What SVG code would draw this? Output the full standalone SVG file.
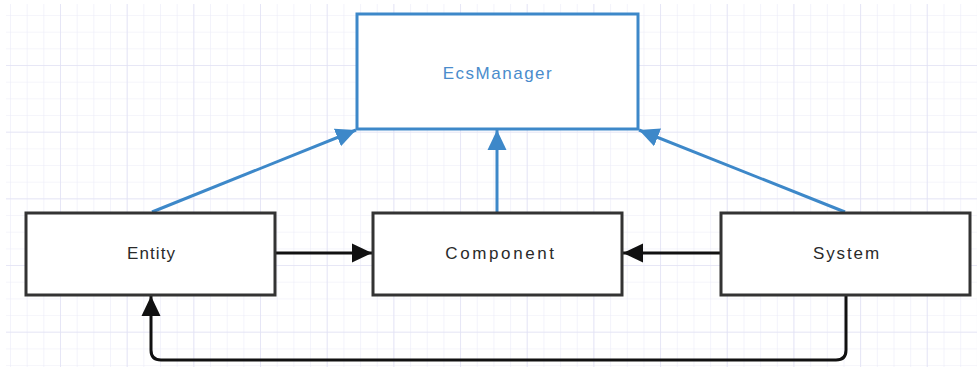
<svg xmlns="http://www.w3.org/2000/svg" width="977" height="367" viewBox="0 0 977 367">
<style>
.box{fill:#ffffff;stroke:#333333;stroke-width:3}
.mgr{fill:#ffffff;stroke:#3d88c9;stroke-width:3}
.lbl{font-family:"Liberation Sans",Arial,sans-serif;font-size:17px;text-anchor:middle;fill:#2a2a2a}
.lblb{font-family:"Liberation Sans",Arial,sans-serif;font-size:17px;text-anchor:middle;fill:#4a8ccc}
.blk{fill:none;stroke:#111111;stroke-width:3}
.blu{fill:none;stroke:#3d88c9;stroke-width:3}
</style>
<defs>
<pattern id="grid" x="10" y="15" width="16.67" height="16.67" patternUnits="userSpaceOnUse">
<path d="M0 0H16.67M0 0V16.67" fill="none" stroke="#ebebf8" stroke-width="1.2"/>
</pattern>
<pattern id="grid2" x="60" y="65" width="66.67" height="66.67" patternUnits="userSpaceOnUse">
<path d="M0 0H66.67M0 0V66.67" fill="none" stroke="#e2e2f5" stroke-width="1.5"/>
</pattern>
<marker id="ab" markerUnits="userSpaceOnUse" viewBox="0 0 20 20" markerWidth="20" markerHeight="20" refX="20" refY="10" orient="auto">
<path d="M0 0.5L20 10L0 19.5Z" fill="#111111"/>
</marker>
<marker id="au" markerUnits="userSpaceOnUse" viewBox="0 0 20 20" markerWidth="20" markerHeight="20" refX="20" refY="10" orient="auto">
<path d="M0 0.5L20 10L0 19.5Z" fill="#3d88c9"/>
</marker>
</defs>
<rect width="977" height="367" fill="#ffffff"/>
<rect x="6" y="4" width="971" height="363" fill="url(#grid)"/>
<rect x="6" y="4" width="971" height="363" fill="url(#grid2)"/>
<g id="connectors">
<path class="blu" d="M152 212L356 130" marker-end="url(#au)"/>
<path class="blu" d="M497 212V130" marker-end="url(#au)"/>
<path class="blu" d="M845 212L639 130" marker-end="url(#au)"/>
<path class="blk" d="M275 253H372" marker-end="url(#ab)"/>
<path class="blk" d="M721 253H623" marker-end="url(#ab)"/>
<path class="blk" d="M846 295V350Q846 360 836 360H161Q151 360 151 350V296" marker-end="url(#ab)"/>
</g>
<g id="ecsmanager">
<rect class="mgr" x="357" y="14" width="281" height="115"/>
<text class="lblb" x="498" y="79" letter-spacing="1.5">EcsManager</text>
</g>
<g id="entity">
<rect class="box" x="26" y="213" width="249" height="82"/>
<text class="lbl" x="151.5" y="259" letter-spacing="1.1">Entity</text>
</g>
<g id="component">
<rect class="box" x="373" y="213" width="249" height="82"/>
<text class="lbl" x="501" y="259" letter-spacing="2.6">Component</text>
</g>
<g id="system">
<rect class="box" x="721" y="213" width="249" height="82"/>
<text class="lbl" x="847" y="259" letter-spacing="1.9">System</text>
</g>
</svg>
